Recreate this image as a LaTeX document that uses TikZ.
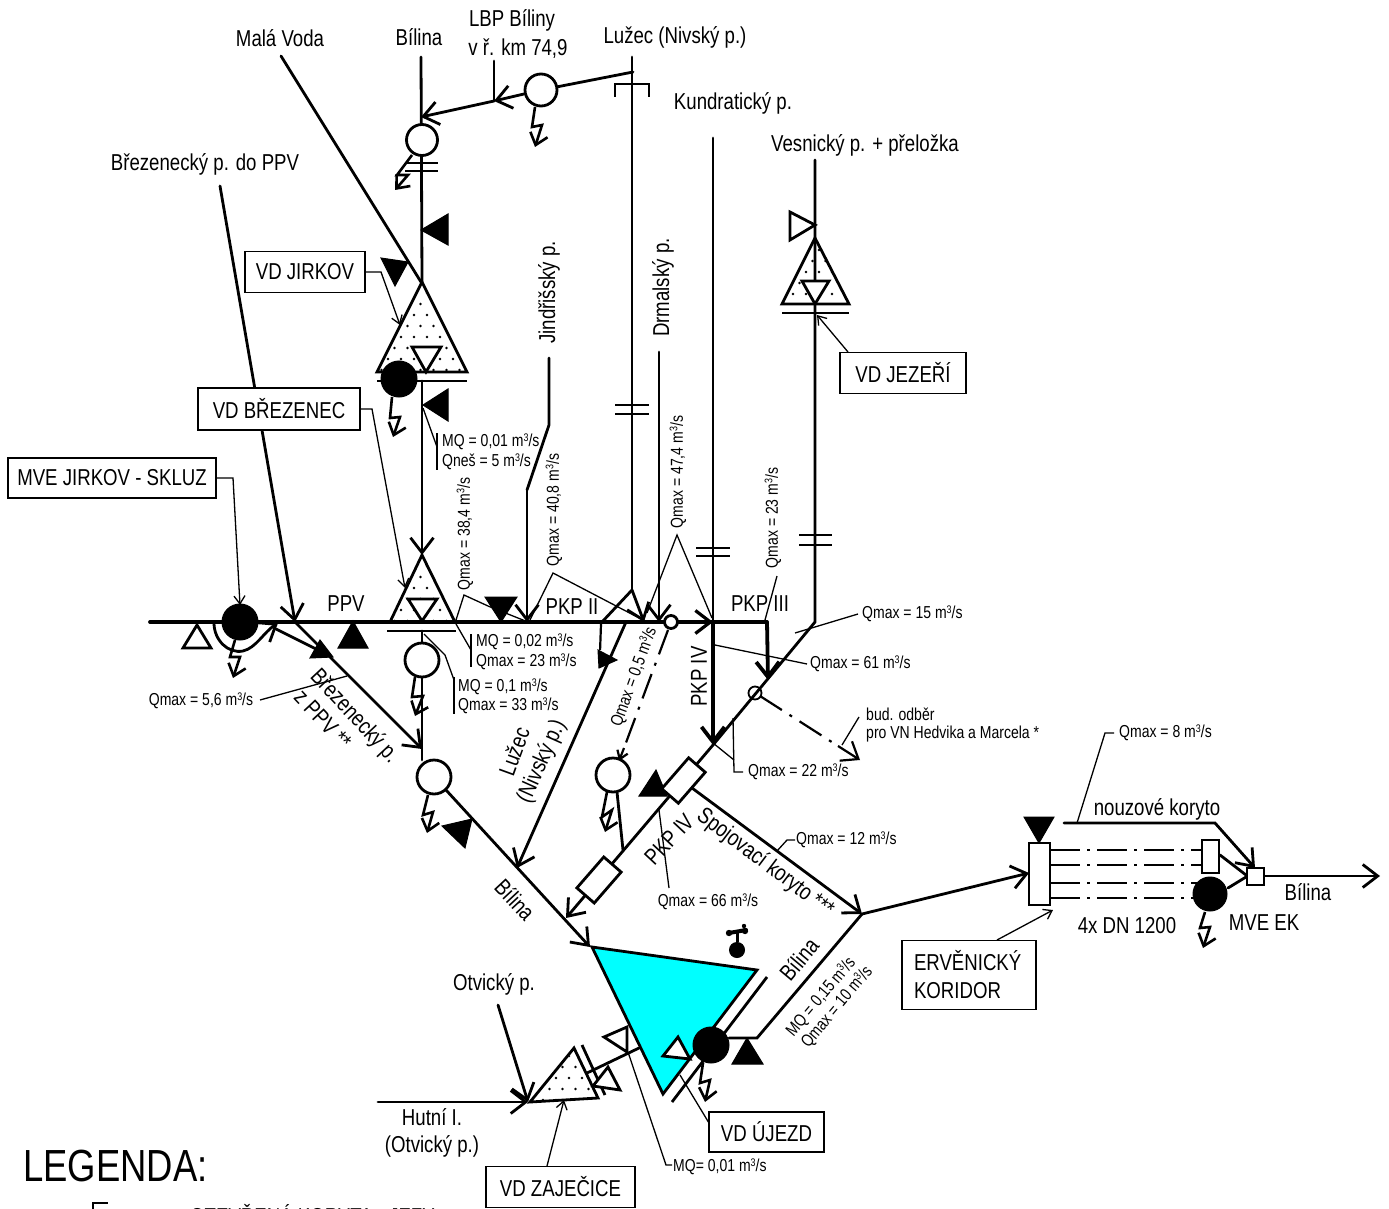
\documentclass[tikz,border=0pt]{standalone}
\usepackage{fontspec}
\setmainfont{Liberation Sans}[FakeStretch=0.81]
\usetikzlibrary{arrows.meta}
\definecolor{resv}{RGB}{0,255,255}
\newcommand{\msq}{m\raisebox{5.5pt}{\fontsize{11}{11}\selectfont 3}/s}
\newcommand{\stip}[4]{\foreach \i in {0,...,#3}{\foreach \j in {0,...,#4}{%
  \pgfmathsetmacro{\px}{#1+13*\i+6.5*mod(\j,2)}\pgfmathsetmacro{\py}{#2+11*\j}%
  \fill (\px,\py) circle (1.4);}}}
\tikzset{
  x=1pt,y=-1pt,
  barb/.tip={Straight Barb[length=15pt,width=23pt]},
  tbarb/.tip={Straight Barb[length=8pt,width=11pt]},
  river/.style={line width=2.8pt,line cap=round,line join=miter},
  mainline/.style={line width=3.8pt,line cap=round,line join=miter},
  thinl/.style={line width=1.3pt,line join=miter},
  riverarrow/.style={river,-barb},
  dashriver/.style={line width=2.2pt,dash pattern=on 26pt off 9pt on 3pt off 9pt},
  dashpipe/.style={line width=2.7pt,dash pattern=on 30pt off 7pt on 3pt off 7pt},
  turb/.style={line width=2.6pt,line join=miter,-{Straight Barb[length=11pt,width=18pt]}},
  tri/.style={draw,line width=2.8pt,fill=white,line join=miter},
  blacktri/.style={draw,line width=1pt,fill=black,line join=miter},
  hbar/.style={line width=2.8pt},
  lab/.style={font=\fontsize{23}{28}\selectfont,inner sep=0pt,align=center,yshift=-1.5pt},
  slab/.style={font=\fontsize{17.3}{20}\selectfont,inner sep=0pt,yshift=-1pt},
  namebox/.style={draw,line width=1.3pt,fill=white,inner sep=0pt,font=\fontsize{23}{28}\selectfont},
  opencirc/.style={circle,draw,line width=2.8pt,fill=white,inner sep=0pt},
  solidcirc/.style={circle,draw,line width=1pt,fill=black,inner sep=0pt},
  sqbox/.style={draw,line width=2.8pt,fill=white,inner sep=0pt},
}
\begin{document}
\begin{tikzpicture}
\useasboundingbox (0,0) rectangle (1389,1209);
\clip (0,0) rectangle (1389,1209);
% ---------- named junctions
\coordinate (mL) at (150,622); \coordinate (mR) at (767,622);
\coordinate (mv0) at (281,56); \coordinate (apexJ) at (421,282);
\coordinate (bil0) at (421,57); \coordinate (bilIn) at (421,117);
\coordinate (lz0) at (632,57); \coordinate (lzT) at (633,72);
\coordinate (lzK) at (632,590); \coordinate (lzL) at (602,622); \coordinate (lzA) at (644,622);
\coordinate (lbp0) at (494,61); \coordinate (lbpJ) at (494,101);
\coordinate (brz0) at (220,186); \coordinate (brzJ) at (295,622);
\coordinate (apexP) at (422,555); \coordinate (brzIn) at (422,749);
\coordinate (jin0) at (549,358); \coordinate (jin1) at (549,425); \coordinate (jin2) at (527,490); \coordinate (jinJ) at (527,622);
\coordinate (drm0) at (659,352); \coordinate (drmJ) at (659,622);
\coordinate (kun0) at (713,138); \coordinate (kunJ) at (713,622); \coordinate (kunE) at (713,745);
\coordinate (ves0) at (815,160); \coordinate (ves1) at (815,313); \coordinate (ves2) at (815,622);
\coordinate (mE) at (768,680);
\coordinate (bilA) at (590,947);
\coordinate (pipeIn) at (566,918);
\coordinate (spojE) at (862,914); \coordinate (erv) at (1029,873);
\coordinate (ujK) at (757,1038); \coordinate (ujL) at (729,1038);
\coordinate (hut0) at (378,1102); \coordinate (hutJ) at (528,1102); \coordinate (otv0) at (498,1005);
\coordinate (luzS) at (626,622); \coordinate (luzE) at (517,868);
\coordinate (budE) at (860,760); \coordinate (budM) at (838,746);
\coordinate (odbE) at (619,761); \coordinate (odbM) at (624,748);
\coordinate (nkA) at (1064,823); \coordinate (nkB) at (1215,823);

% ---------- reservoir
\draw[line width=2.8pt,fill=resv,line join=miter] (592,947) -- (757,970) -- (663,1094) -- cycle;
\draw[hbar] (767,977) -- (672,1102);

% ---------- rivers and main lines
\draw[river] (mv0) -- (apexJ);
\draw[river] (bil0) -- (422,282);
\draw[river] (422,381) -- (422,405);
\draw[riverarrow] (422,405) -- (apexP);
\draw[river] (422,631) -- (422,760);
\draw[riverarrow] (brzJ) -- (brzIn);
\draw[riverarrow] (brz0) -- (brzJ);
\draw[river] (lbp0) -- (lbpJ);
\draw[river] (jin0) -- (jin1) -- (jin2);
\draw[riverarrow] (jin2) -- (jinJ);
\draw[river] (lz0) -- (lzK);
\draw[riverarrow] (lzK) -- (lzA);
\draw[river] (lzK) -- (lzL);
\draw[riverarrow] (drm0) -- (drmJ);
\draw[mainline] (mL) -- (mR);
\draw[river] (kun0) -- (kunJ);
\draw[mainline,-barb] (kunJ) -- (kunE);
\draw[mainline,-barb] (mR) -- (mE);
\draw[line width=3.2pt,-barb] (640,622) -- (kunJ);
\draw[river] (ves0) -- (ves2) -- (kunE);
\draw[river,-barb] (luzS) -- (luzE);
\draw[dashriver] (601,624) -- (600,652);
\draw[river] (276,629) -- (318,650);
\draw[line width=2.8pt,line cap=round,-barb] (214,623) .. controls (214,640) and (228,654) .. (243,651) .. controls (256,648) and (264,632) .. (278,623);
\draw[dashriver] (668,630) -- (odbM);
\draw[line width=2.2pt,-tbarb] (odbM) -- (odbE);
\draw[dashriver] (760,696) -- (budM);
\draw[line width=2.2pt,-barb] (budM) -- (budE);
\draw[riverarrow] (kunE) -- (pipeIn);
\draw[riverarrow] (446,790) -- (bilA);
\draw[riverarrow] (692,788) -- (spojE);
\draw[riverarrow] (spojE) -- (erv);
\draw[river] (spojE) -- (ujK) -- (ujL);
\draw[riverarrow] (hut0) -- (hutJ);
\draw[riverarrow] (otv0) -- (hutJ);
\draw[river] (587,1073) -- (639,1048);
\draw[river] (617,792) -- (623,850);
\draw[river] (1220,855) -- (1246,875);
\draw[river] (1228,888) -- (1246,877);
\draw[river,-barb] (1264,876) -- (1380,876);
\draw[river,-barb] (nkA) -- (nkB) -- (1255,868);
\foreach \yy in {850,865,883,898}{\draw[dashpipe] (1050,\yy) -- (1202,\yy);}

% ---------- cross bars and the bracket
\draw[hbar] (405,163) -- (438,163); \draw[hbar] (405,171) -- (438,171);
\draw[hbar] (615,405) -- (649,405); \draw[hbar] (615,414) -- (649,414);
\draw[hbar] (696,548) -- (730,548); \draw[hbar] (696,556) -- (730,556);
\draw[hbar] (799,535) -- (832,535); \draw[hbar] (799,545) -- (832,545);
\draw[line width=2.8pt,line join=miter] (615,97) -- (615,84) -- (649,84) -- (649,97);

% ---------- dams (stippled triangles)
\begin{scope}
\fill[white] (422,282) -- (467,372) -- (377,372) -- cycle;
\clip (422,285) -- (465,371) -- (379,371) -- cycle; \stip{375}{293}{7}{7}
\end{scope}
\draw[tri,fill=none] (422,282) -- (467,372) -- (377,372) -- cycle;
\draw[tri] (412,347) -- (441,347) -- (426,372) -- cycle;
\draw[hbar] (377,381) -- (467,381);
\begin{scope}
\clip (422,557) -- (454,621) -- (390,621) -- cycle; \stip{388}{566}{5}{5}
\end{scope}
\draw[tri,fill=none] (422,555) -- (455,622) -- (390,622) -- cycle;
\draw[tri] (408,599) -- (437,599) -- (422,621) -- cycle;
\draw[hbar] (387,631) -- (456,631);
\begin{scope}
\clip (815,240) -- (848,303) -- (782,303) -- cycle; \stip{780}{250}{5}{5}
\end{scope}
\draw[tri,fill=none] (815,238) -- (849,304) -- (782,304) -- cycle;
\draw[tri] (802,281) -- (829,281) -- (815,304) -- cycle;
\draw[hbar] (782,313) -- (849,313);
\begin{scope}
\clip (574,1050) -- (597,1097) -- (532,1101) -- cycle; \stip{530}{1056}{5}{4}
\end{scope}
\draw[tri,fill=none] (574,1048) -- (598,1098) -- (530,1102) -- cycle;
\draw[hbar] (582,1045) -- (605,1095);

% ---------- open and filled triangles
\draw[tri] (815,225) -- (790,212) -- (790,240) -- cycle;
\draw[tri] (197,625) -- (211,648) -- (183,648) -- cycle;
\draw[tri] (604,1037) -- (627,1027) -- (627,1052) -- cycle;
\draw[tri] (608,1067) -- (620,1090) -- (593,1086) -- cycle;
\draw[tri] (678,1037) -- (690,1059) -- (663,1056) -- cycle;
\draw[blacktri] (421,230) -- (448,214) -- (448,245) -- cycle;
\draw[blacktri] (423,405) -- (448,389) -- (448,421) -- cycle;
\draw[blacktri] (381,258) -- (408,262) -- (395,286) -- cycle;
\draw[blacktri] (353,621) -- (368,648) -- (338,648) -- cycle;
\draw[blacktri] (320,640) -- (333,657) -- (310,658) -- cycle;
\draw[blacktri] (485,597) -- (517,597) -- (501,622) -- cycle;
\draw[blacktri] (598,650) -- (617,660) -- (599,668) -- cycle;
\draw[blacktri] (442,826) -- (472,819) -- (465,848) -- cycle;
\draw[blacktri] (656,770) -- (667,796) -- (639,796) -- cycle;
\draw[blacktri] (747,1038) -- (763,1064) -- (732,1064) -- cycle;
\draw[blacktri] (1024,817) -- (1054,817) -- (1039,843) -- cycle;

% ---------- circles and pipe boxes
\node[opencirc,minimum size=31pt] (cBil) at (422,140) {};
\node[opencirc,minimum size=32pt] (cLbp) at (541,90) {};
\node[solidcirc,minimum size=36pt] (cJir) at (399,379) {};
\node[solidcirc,minimum size=36pt] (cMve) at (240,622) {};
\node[opencirc,minimum size=34pt] (cPpv) at (422,660) {};
\node[opencirc,minimum size=34pt] (cBi2) at (434,777) {};
\node[opencirc,minimum size=34pt] (cOdb) at (613,775) {};
\node[opencirc,minimum size=13pt] (cSm1) at (671,622) {};
\node[circle,draw,line width=1.8pt,minimum size=13pt,inner sep=0pt] (cSm2) at (755,693) {};
\node[solidcirc,minimum size=36pt] (cUj) at (711,1045) {};
\node[solidcirc,minimum size=34pt] (cEk) at (1210,894) {};
\draw[river] (lzT) -- (cLbp);
\draw[river,-barb] (cLbp) -- (lbpJ);
\draw[river,-barb] (lbpJ) -- (bilIn);
\node[sqbox,minimum width=41pt,minimum height=22pt,rotate=49] (pb1) at (683.5,780.5) {};
\node[sqbox,minimum width=41pt,minimum height=23pt,rotate=49] (pb2) at (599,880) {};
\node[sqbox,minimum width=21pt,minimum height=62pt] (pbE) at (1039.5,874) {};
\node[sqbox,minimum width=17pt,minimum height=33pt] (pbT) at (1210.5,856.5) {};
\node[sqbox,minimum width=17pt,minimum height=17pt] (pbM) at (1255.5,876.5) {};

% ---------- turbines
\draw[turb] (412,155) -- (397,175) -- (408,175) -- (395,190);
\draw[turb] (535,107) -- (532,127) -- (542,125) -- (535,147);
\draw[turb] (392,397) -- (390,418) -- (400,417) -- (393,437);
\draw[turb] (235,640) -- (230,657) -- (240,657) -- (233,678);
\draw[turb] (415,677) -- (412,697) -- (423,696) -- (415,716);
\draw[turb] (428,795) -- (423,815) -- (433,812) -- (427,833);
\draw[turb] (607,792) -- (602,817) -- (612,810) -- (605,832);
\draw[turb] (703,1063) -- (700,1083) -- (710,1080) -- (705,1102);
\draw[turb] (1205,912) -- (1200,928) -- (1210,927) -- (1203,948);

% ---------- tap symbol
\node[solidcirc,minimum size=15pt] (tap) at (737,950) {};
\draw[line width=3pt] (tap) -- (737,933);
\draw[line width=4pt,line cap=round] (729,933) -- (746,930);
\fill (729,933) circle (3.2); \fill (745,931) circle (3.2); \fill (744,926) circle (2.2);

% ---------- name boxes
\node[namebox,minimum width=120pt,minimum height=41pt] (bJir) at (305,272) {VD JIRKOV};
\node[namebox,minimum width=162pt,minimum height=42pt] (bBrz) at (279,409) {VD BŘEZENEC};
\node[namebox,minimum width=208pt,minimum height=40pt] (bMve) at (112,478) {MVE JIRKOV - SKLUZ};
\node[namebox,minimum width=126pt,minimum height=41pt] (bJez) at (903,373) {VD JEZEŘÍ};
\node[namebox,minimum width=134pt,minimum height=69pt,align=left,text width=110pt] (bErv) at (969,975) {ERVĚNICKÝ\\KORIDOR};
\node[namebox,minimum width=115pt,minimum height=40pt] (bUj) at (766.5,1132) {VD ÚJEZD};
\node[namebox,minimum width=149pt,minimum height=41pt] (bZaj) at (560.5,1187) {VD ZAJEČICE};

% ---------- leaders
\draw[thinl,-tbarb] (bJir.east) -- (381,272) -- (400,325);
\draw[thinl,-tbarb] (bBrz.east) -- (372,409) -- (405,588);
\draw[thinl,-tbarb] (bMve.east) -- (233,478) -- (240,605);
\draw[thinl,-tbarb] (848,352) -- (817,315);
\draw[thinl,-tbarb] (547,1166) -- (564,1100);
\draw[thinl] (709,1123) -- (680,1075);
\draw[thinl,-tbarb] (997,940) -- (1053,910);
\draw[thinl] (628,1052) -- (666,1165) -- (672,1165);
\draw[thinl] (423,408) -- (437,447);
\draw[thinl] (437,433) -- (437,470);
\draw[thinl] (456,620) -- (464,595) -- (488,606) -- (528,622);
\draw[thinl] (456,624) -- (471,650); \draw[thinl] (471,634) -- (471,667);
\draw[thinl] (424,634) -- (445,655) -- (454,680); \draw[thinl] (454,677) -- (454,714);
\draw[thinl] (530,620) -- (553,573) -- (643,620);
\draw[thinl] (647,613) -- (677,535) -- (712,618);
\draw[thinl] (777,576) -- (765,620);
\draw[thinl] (715,645) -- (807,664);
\draw[thinl] (795,633) -- (858,614);
\draw[thinl] (713,743) -- (734,760);
\draw[thinl] (733,718) -- (734,772) -- (743,772);
\draw[thinl] (859,717) -- (842,745);
\draw[thinl] (260,700) -- (347,676);
\draw[thinl] (659,810) -- (669,888);
\draw[thinl] (777,851) -- (787,840) -- (795,840);
\draw[thinl] (1077,823) -- (1105,733) -- (1114,733);

% ---------- labels
\node[lab] (t1) at (280,37) {Malá Voda};
\node[lab] (t2) at (419,36) {Bílina};
\node[lab] (t3) at (512,19) {LBP Bíliny};
\node[lab] (t4) at (518,47) {v ř. km 74,9};
\node[lab] (t5) at (675,36) {Lužec (Nivský p.)};
\node[lab] (t6) at (733,102) {Kundratický p.};
\node[lab] (t7) at (865,144) {Vesnický p. + přeložka};
\node[lab] (t8) at (205,163) {Březenecký p. do PPV};
\node[lab,rotate=90] (t9) at (549,291) {Jindřišský p.};
\node[lab,rotate=90] (t10) at (663,286) {Drmalský p.};
\node[lab] (t11) at (346,602) {PPV};
\node[lab] (t12) at (572,605) {PKP II};
\node[lab] (t13) at (760,602) {PKP III};
\node[lab,rotate=90] (t14) at (699,675) {PKP IV};
\node[lab,rotate=-47] (t15) at (354,715) {Březenecký p.};
\node[lab,rotate=-47] (t16) at (323,718) {z PPV **};
\node[lab,rotate=70] (t17) at (514,750) {Lužec};
\node[lab,rotate=66] (t18) at (542,760) {(Nivský p.)};
\node[lab,rotate=-47] (t19) at (515,898) {Bílina};
\node[lab,rotate=47] (t20) at (669,838) {PKP IV};
\node[lab,rotate=-37] (t21) at (765,862) {Spojovací koryto ***};
\node[lab,rotate=50] (t22) at (799,958) {Bílina};
\node[lab] (t23) at (494,983) {Otvický p.};
\node[lab] (t24) at (432,1116) {Hutní I.};
\node[lab] (t25) at (432,1145) {(Otvický p.)};
\node[lab] (t26) at (1157,808) {nouzové koryto};
\node[lab] (t27) at (1127,924) {4x DN 1200};
\node[lab] (t28) at (1264,921) {MVE EK};
\node[lab] (t29) at (1308,891) {Bílina};
\node[slab] (q1) at (201,700) {Qmax = 5,6 \msq};
\node[slab,anchor=west] (q2) at (442,441) {MQ = 0,01 \msq};
\node[slab,anchor=west] (q3) at (442,461) {Qneš = 5 \msq};
\node[slab,rotate=90] (q4) at (465,533) {Qmax = 38,4 \msq};
\node[slab,rotate=90] (q5) at (554,509) {Qmax = 40,8 \msq};
\node[slab,rotate=90] (q6) at (678,471) {Qmax = 47,4 \msq};
\node[slab,rotate=90] (q7) at (773,517) {Qmax = 23 \msq};
\node[slab,anchor=west] (q8) at (476,641) {MQ = 0,02 \msq};
\node[slab,anchor=west] (q9) at (476,661) {Qmax = 23 \msq};
\node[slab,anchor=west] (q10) at (458,686) {MQ = 0,1 \msq};
\node[slab,anchor=west] (q11) at (458,705) {Qmax = 33 \msq};
\node[slab,rotate=70] (q12) at (634,676) {Qmax = 0,5 \msq};
\node[slab,anchor=west] (q13) at (862,613) {Qmax = 15 \msq};
\node[slab,anchor=west] (q14) at (810,663) {Qmax = 61 \msq};
\node[slab,anchor=west] (q15) at (748,771) {Qmax = 22 \msq};
\node[slab,anchor=west] (q16) at (866,713) {bud. odběr};
\node[slab,anchor=west] (q17) at (866,733) {pro VN Hedvika a Marcela *};
\node[slab,anchor=west] (q18) at (796,839) {Qmax = 12 \msq};
\node[slab] (q19) at (708,901) {Qmax = 66 \msq};
\node[slab,anchor=west] (q20) at (1119,732) {Qmax = 8 \msq};
\node[slab,rotate=50] (q21) at (821,996) {MQ = 0,15 \msq};
\node[slab,rotate=50] (q22) at (837,1006) {Qmax = 10 \msq};
\node[slab,anchor=west] (q23) at (673,1166) {MQ= 0,01 \msq};
% ---------- legend
\node[anchor=west,inner sep=0pt,font=\fontsize{45}{50}\selectfont] (leg) at (23,1166) {LEGENDA:};
\draw[line width=2.4pt] (93,1225) -- (93,1203) -- (108,1203);
\node[anchor=west,inner sep=0pt,font=\fontsize{23}{26}\selectfont] (leg2) at (190,1215) {OTEVŘENÁ KORYTA - JEZY};
\end{tikzpicture}
\end{document}
